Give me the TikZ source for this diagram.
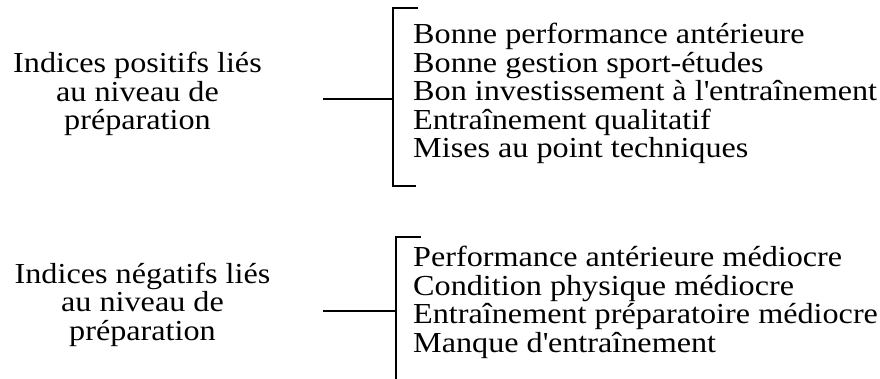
\documentclass[tikz,border=0pt]{standalone}
\usepackage{fontspec}
\setmainfont[FakeStretch=1.11]{Liberation Serif}
\usetikzlibrary{positioning}
\tikzset{
  cue/.style={align=center, inner sep=0pt, font=\fontsize{29}{28.5}\selectfont},
  cuelist/.style={align=left, inner sep=0pt, font=\fontsize{29}{28.5}\selectfont},
  brack/.style={line width=2pt, line join=miter, draw=black},
  link/.style={line width=2pt, draw=black}
}
\begin{document}
\begin{tikzpicture}[x=1pt, y=-1pt]
\useasboundingbox (0,0) rectangle (880,379);
% positive cues (base = last line)
\node[cue, anchor=base] (pos) at (137.5,130) {Indices positifs liés\\au niveau de\\préparation};
\node[cuelist, anchor=base west] (poslist) at (413,158) {Bonne performance antérieure\\Bonne gestion sport-études\\Bon investissement à l\textquotesingle entraînement\\Entraînement qualitatif\\Mises au point techniques};
\coordinate (postop) at (418,8); \coordinate (posbot) at (416,186);
\coordinate (posjoin) at (393,99); \coordinate (posstart) at (323,99);
\draw[brack] (postop) -| (posjoin |- posbot) -- (posbot);
\draw[link] (posstart) -- (posjoin);
% negative cues
\node[cue, anchor=base] (neg) at (142.5,340) {Indices négatifs liés\\au niveau de\\préparation};
\node[cuelist, anchor=base west] (neglist) at (413,352) {Performance antérieure médiocre\\Condition physique médiocre\\Entraînement préparatoire médiocre\\Manque d\textquotesingle entraînement};
\coordinate (negtop) at (421,237); \coordinate (negbot) at (396,380);
\coordinate (negjoin) at (396,311); \coordinate (negstart) at (323,311);
\draw[brack] (negtop) -| (negbot);
\draw[link] (negstart) -- (negjoin);
\end{tikzpicture}
\end{document}
